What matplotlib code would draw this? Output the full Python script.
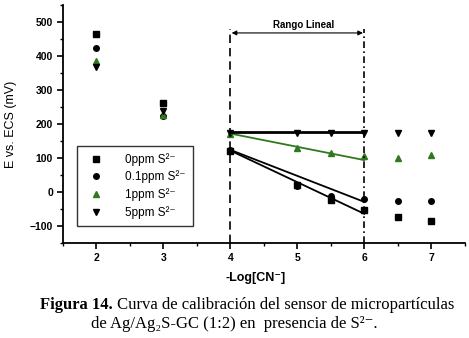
import matplotlib
matplotlib.use("Agg")
from matplotlib import pyplot as plt
from matplotlib.ticker import MultipleLocator

# data
x = [2, 3, 4, 5, 5.5, 6, 6.5, 7]
e_0ppm = [465, 262, 120, 20, -23, -53, -73, -85]
e_01ppm = [425, 225, 123, 18, -12, -20, -26, -26]
e_1ppm = [385, 228, 170, 129, 115, 106, 100, 108]
e_5ppm = [367, 237, 175, 175, 175, 175, 175, 175]

# linear fits over the linear range (4-6)
fit_x = [4, 6]
fit_0ppm = [122, -64]
fit_01ppm = [124, -29]
fit_1ppm = [172, 94]
fit_5ppm = [178, 178]

labels = ['0ppm S²⁻', '0.1ppm S²⁻', '1ppm S²⁻', '5ppm S²⁻']
green = "#2f7a1f"

plt.rcParams['font.family'] = ['Liberation Sans', 'DejaVu Sans']
fig = plt.figure(figsize=(4.69, 3.38), dpi=100)
ax = fig.add_axes([0.134, 0.281, 0.857, 0.704])

ax.plot(x, e_0ppm, 's', color='black', ms=4, label=labels[0])
ax.plot(x, e_01ppm, 'o', color='black', ms=4, label=labels[1])
ax.plot(x, e_1ppm, '^', color=green, ms=4.5, label=labels[2])
ax.plot(x, e_5ppm, 'v', color='black', ms=4.5, label=labels[3])

ax.plot(fit_x, fit_0ppm, '-', color='black', lw=1.3)
ax.plot(fit_x, fit_01ppm, '-', color='black', lw=1.3)
ax.plot(fit_x, fit_1ppm, '-', color=green, lw=1.3)
ax.plot(fit_x, fit_5ppm, '-', color='black', lw=2)

# linear range markers
ax.plot([4, 4], [-150, 480], '--', color='black', lw=1.2, dashes=(5, 3))
ax.plot([6, 6], [-150, 480], '-.', color='black', lw=1.2, dashes=(4, 2, 1, 2))
ax.annotate('', xy=(4.02, 468), xytext=(5.98, 468),
            arrowprops=dict(arrowstyle='<|-|>', color='black', lw=0.8,
                            mutation_scale=7, shrinkA=0, shrinkB=0))
ax.text(5.1, 490, 'Rango Lineal', ha='center', va='center', fontsize=7, fontweight='bold')

ax.set_xlim(1.5, 7.5)
ax.set_ylim(-150, 550)
ax.xaxis.set_major_locator(MultipleLocator(1))
ax.xaxis.set_minor_locator(MultipleLocator(0.5))
ax.yaxis.set_major_locator(MultipleLocator(100))
ax.yaxis.set_minor_locator(MultipleLocator(50))
ax.set_xticks([2, 3, 4, 5, 6, 7])
ax.tick_params(which='major', length=4, width=1.2, labelsize=7.5, pad=3)
ax.tick_params(which='minor', length=2.5, width=1)
for lab in ax.get_xticklabels() + ax.get_yticklabels():
    lab.set_fontweight('bold')
for s in ['top', 'right']:
    ax.spines[s].set_visible(False)
for s in ['left', 'bottom']:
    ax.spines[s].set_linewidth(1.3)

ax.set_ylabel('E vs. ECS (mV)', fontsize=9)
ax.yaxis.set_label_coords(-0.115, 0.5)
ax.set_xlabel('-Log[CN⁻]', fontsize=9, fontweight='bold')
ax.xaxis.set_label_coords(0.48, -0.12)

leg = ax.legend(loc='lower left', bbox_to_anchor=(0.035, 0.071), borderaxespad=0,
                fontsize=8.5, frameon=True, fancybox=False, edgecolor='black',
                borderpad=0.6, handletextpad=1.5, labelspacing=0.42)
leg.get_frame().set_linewidth(1.0)

serif = ['Liberation Serif', 'DejaVu Serif']
cap1 = fig.text(0.085, 0.098, 'Figura 14.', fontsize=12, family=serif,
                fontweight='bold', va='center')
fig.canvas.draw()
bb = cap1.get_window_extent()
fig.text(bb.x1 / fig.bbox.width, 0.098, ' Curva de calibración del sensor de micropartículas',
         fontsize=12, family=serif, va='center')
fig.text(0.5, 0.041, 'de Ag/Ag₂S-GC (1:2) en  presencia de S²⁻.', fontsize=12,
         family=serif, ha='center', va='center')

fig.savefig('out.png', dpi=100)
